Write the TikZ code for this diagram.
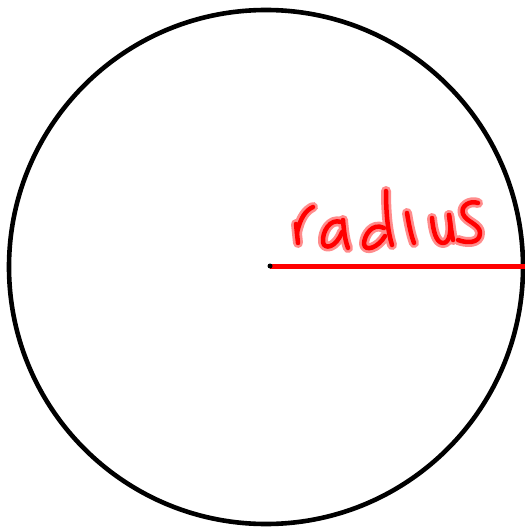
\documentclass[tikz,border=0pt]{standalone}
\begin{document}
\begin{tikzpicture}[x=1pt,y=-1pt,
  halo/.style={draw=red!45,line width=10pt,line cap=round,line join=round},
  ink/.style={draw=red,line width=4.5pt,line cap=round,line join=round}]
\useasboundingbox (0,0) rectangle (524,529);
\coordinate (c) at (266,267);
\coordinate (o) at (270,266);
\coordinate (e) at (526,266);
\draw[line width=4.6pt] (c) circle[radius=257];
\draw[red,line width=5pt] (o) -- (e);
\fill (o) circle[radius=2.5];
\foreach \s in {halo,ink}{
  % r
  \draw[\s] (296,224) -- (298,243);
  \draw[\s] (297,233) .. controls (300,218) and (306,210) .. (313,207);
  % a
  \draw[\s] (341,222) .. controls (330,218) and (322,232) .. (323,242)
     .. controls (324,250) and (336,248) .. (342,232);
  \draw[\s] (343,220) .. controls (344,232) and (345,240) .. (348,248);
  % d
  \draw[\s] (384,228) .. controls (372,222) and (364,236) .. (364,244)
     .. controls (365,252) and (378,248) .. (385,236);
  \draw[\s] (386,191) .. controls (386,215) and (388,232) .. (392,245);
  % l
  \draw[\s] (407,213) .. controls (409,225) and (411,235) .. (414,243);
  % u
  \draw[\s] (432,218) .. controls (433,230) and (436,243) .. (443,243)
     .. controls (450,243) and (452,230) .. (449,215);
  \draw[\s] (449,215) .. controls (451,228) and (452,236) .. (453,240);
  % s
  \draw[\s] (478,203) .. controls (470,200) and (460,206) .. (463,214)
     .. controls (466,222) and (480,224) .. (480,233)
     .. controls (480,244) and (466,243) .. (458,240);
}
\end{tikzpicture}
\end{document}
